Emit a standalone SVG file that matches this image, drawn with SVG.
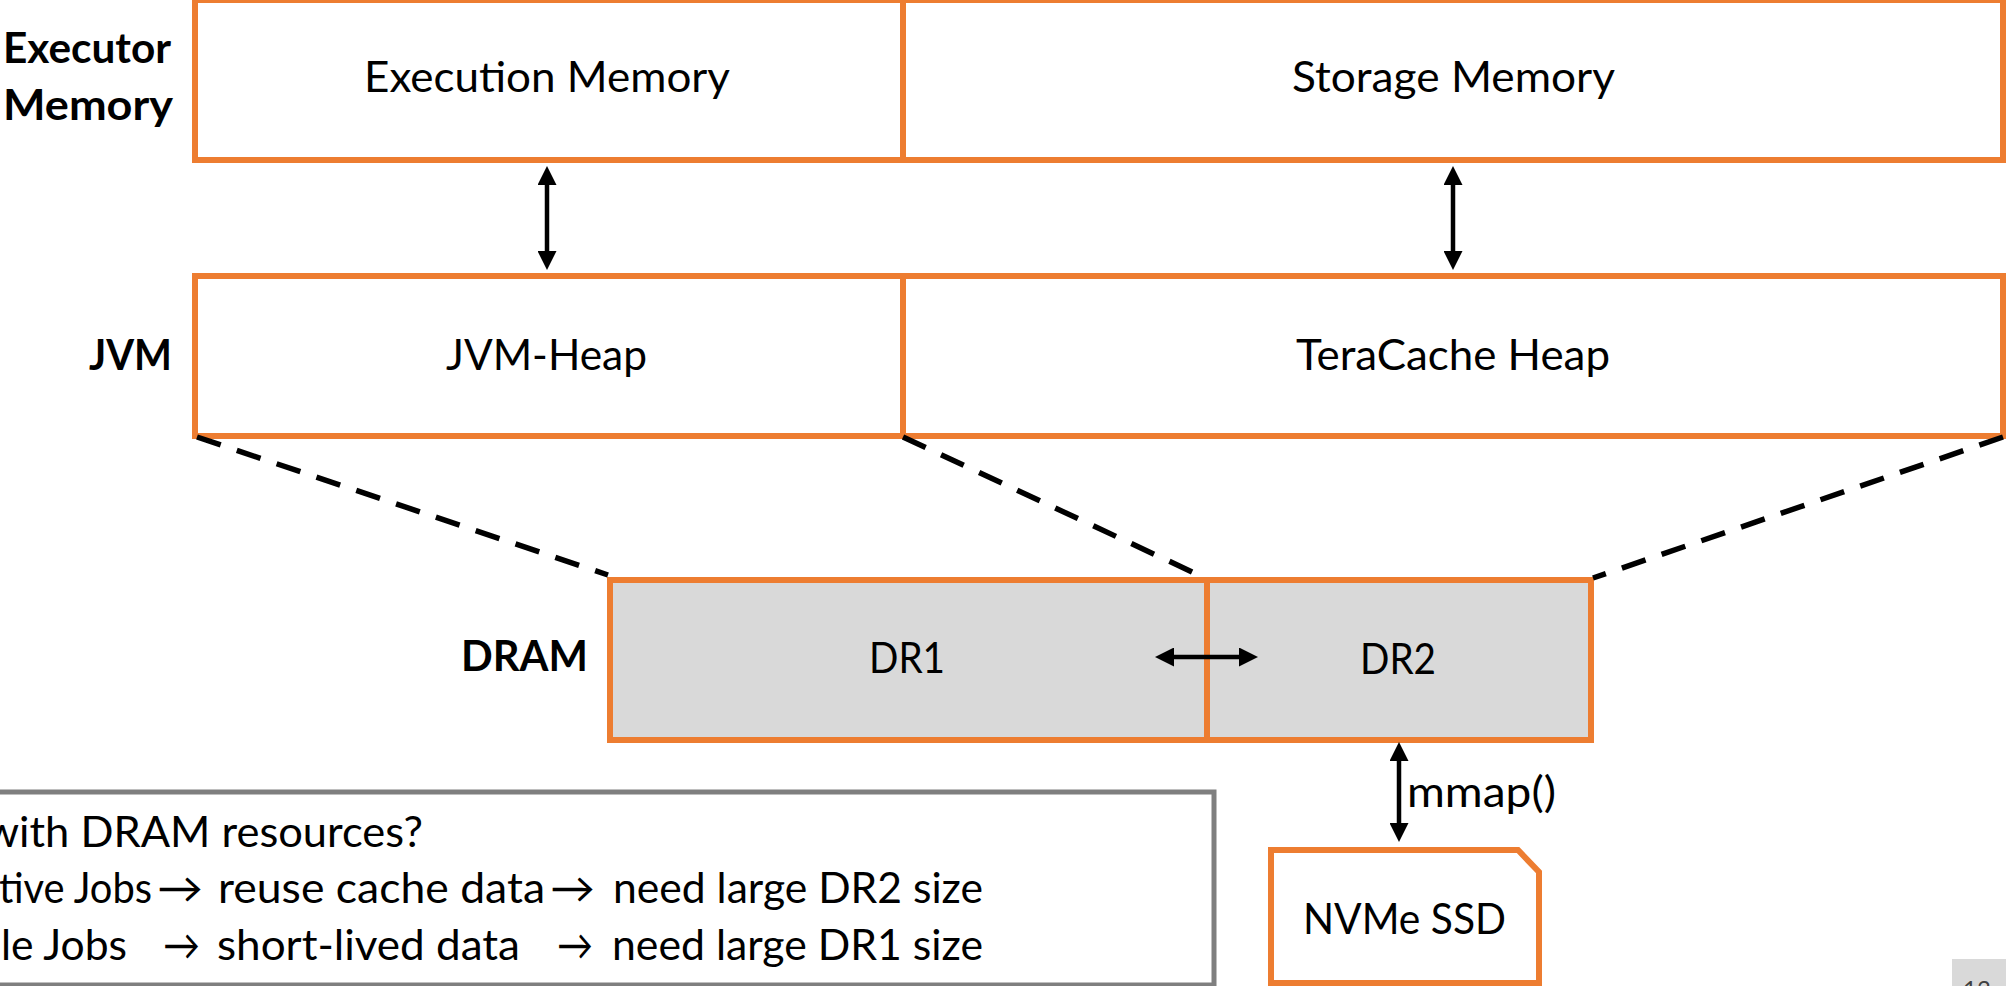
<svg xmlns="http://www.w3.org/2000/svg" width="2006" height="986" viewBox="0 0 2006 986">
  <style>
    .box { fill: #FFFFFF; stroke: #ED7D31; stroke-width: 6; }
    .dram { fill: #D9D9D9; stroke: #ED7D31; stroke-width: 6; }
    .txt { font-family: Lato, "Liberation Sans", sans-serif; font-size: 42px; fill: #000000; }
    .bold { font-weight: 700; }
    .dash { fill: none; stroke: #000000; stroke-width: 5.5; stroke-dasharray: 25 17; }
    .arrow { fill: none; stroke: #000000; stroke-width: 4.5; marker-start: url(#head); marker-end: url(#head); }
    .note { fill: #FFFFFF; stroke: #7F7F7F; stroke-width: 5; }
  </style>
  <defs>
    <marker id="head" markerUnits="userSpaceOnUse" markerWidth="19" markerHeight="19" refX="0" refY="9.5" orient="auto-start-reverse" viewBox="0 0 19 19">
      <path d="M0,0 L19,9.5 L0,19 Z" fill="#000000"/>
    </marker>
  </defs>

  <rect width="2006" height="986" fill="#FFFFFF"/>

  <!-- layer labels -->
  <g id="label-executor">
    <text class="txt bold" x="3" y="63" textLength="168" lengthAdjust="spacingAndGlyphs">Executor</text>
    <text class="txt bold" x="3" y="120" textLength="170" lengthAdjust="spacingAndGlyphs">Memory</text>
  </g>
  <g id="label-jvm">
    <text class="txt bold" x="89" y="370" textLength="83" lengthAdjust="spacingAndGlyphs">JVM</text>
  </g>
  <g id="label-dram">
    <text class="txt bold" x="461" y="671" textLength="127" lengthAdjust="spacingAndGlyphs">DRAM</text>
  </g>

  <!-- executor memory row -->
  <g id="execution-memory">
    <rect class="box" x="195" y="0" width="708" height="160"/>
    <text class="txt" x="364" y="92" textLength="366" lengthAdjust="spacingAndGlyphs">Execution Memory</text>
  </g>
  <g id="storage-memory">
    <rect class="box" x="903" y="0" width="1100" height="160"/>
    <text class="txt" x="1292" y="92" textLength="323" lengthAdjust="spacingAndGlyphs">Storage Memory</text>
  </g>

  <!-- JVM row -->
  <g id="jvm-heap">
    <rect class="box" x="195" y="276" width="708" height="160"/>
    <text class="txt" x="446" y="370" textLength="201" lengthAdjust="spacingAndGlyphs">JVM-Heap</text>
  </g>
  <g id="teracache-heap">
    <rect class="box" x="903" y="276" width="1100" height="160"/>
    <text class="txt" x="1296" y="370" textLength="314" lengthAdjust="spacingAndGlyphs">TeraCache Heap</text>
  </g>

  <!-- DRAM row -->
  <g id="dr1">
    <rect class="dram" x="610" y="580" width="597" height="160"/>
    <text class="txt" x="869" y="673" textLength="76" lengthAdjust="spacingAndGlyphs">DR1</text>
  </g>
  <g id="dr2">
    <rect class="dram" x="1207" y="580" width="384" height="160"/>
    <text class="txt" x="1360" y="674" textLength="76" lengthAdjust="spacingAndGlyphs">DR2</text>
  </g>

  <!-- storage device -->
  <g id="nvme-ssd">
    <path class="box" d="M1271,850 H1518 L1539,872 V983 H1271 Z"/>
    <text class="txt" x="1303" y="934" textLength="203" lengthAdjust="spacingAndGlyphs">NVMe SSD</text>
  </g>

  <!-- connectors -->
  <g id="connectors">
    <path class="dash" d="M197,437 L608,575"/>
    <path class="dash" d="M903,437 L1203,577"/>
    <path class="dash" d="M2003,437 L1593,578"/>
    <path class="arrow" d="M547,185 V251"/>
    <path class="arrow" d="M1453,185 V251"/>
    <path class="arrow" d="M1174,657 H1239"/>
    <path class="arrow" d="M1399,761 V823"/>
    <text class="txt" x="1407" y="807" textLength="149" lengthAdjust="spacingAndGlyphs">mmap()</text>
  </g>

  <!-- notes box -->
  <g id="notes">
    <rect class="note" x="-10" y="792" width="1224" height="193"/>
    <text class="txt" x="-15" y="847" textLength="438" lengthAdjust="spacingAndGlyphs">with DRAM resources?</text>
    <text class="txt" x="-1" y="903" textLength="153" lengthAdjust="spacingAndGlyphs">tive Jobs</text>
    <text class="txt" x="157" y="903" textLength="46" lengthAdjust="spacingAndGlyphs">→</text>
    <text class="txt" x="218" y="903" textLength="327" lengthAdjust="spacingAndGlyphs">reuse cache data</text>
    <text class="txt" x="550" y="903" textLength="45" lengthAdjust="spacingAndGlyphs">→</text>
    <text class="txt" x="613" y="903" textLength="370" lengthAdjust="spacingAndGlyphs">need large DR2 size</text>
    <text class="txt" x="1" y="960" textLength="126" lengthAdjust="spacingAndGlyphs">le Jobs</text>
    <text class="txt" x="163" y="960" textLength="37" lengthAdjust="spacingAndGlyphs">→</text>
    <text class="txt" x="217" y="960" textLength="303" lengthAdjust="spacingAndGlyphs">short-lived data</text>
    <text class="txt" x="557" y="960" textLength="36" lengthAdjust="spacingAndGlyphs">→</text>
    <text class="txt" x="612" y="960" textLength="371" lengthAdjust="spacingAndGlyphs">need large DR1 size</text>
  </g>

  <!-- slide number -->
  <g id="slide-number">
    <rect x="1952" y="959" width="60" height="30" fill="#D9D9D9"/>
    <text x="1963" y="998" font-family="Lato, 'Liberation Sans', sans-serif" font-size="24" fill="#404040">13</text>
  </g>
</svg>
